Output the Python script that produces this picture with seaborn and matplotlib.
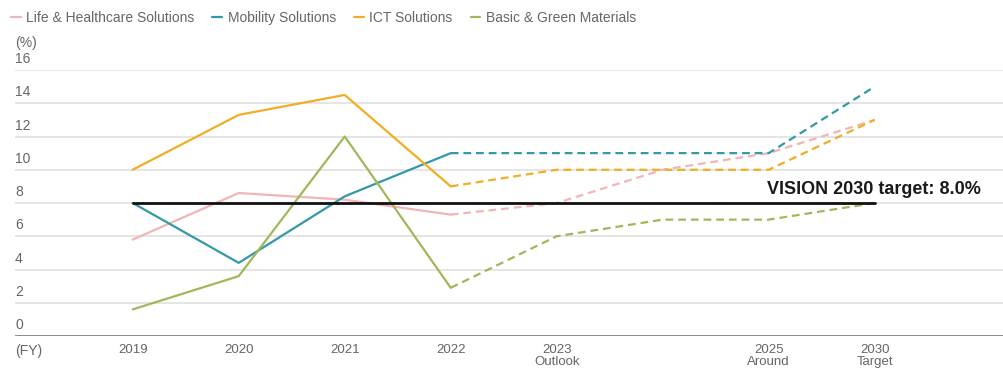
import pandas as pd
import matplotlib.pyplot as plt
import seaborn as sns
from matplotlib.lines import Line2D

# x positions (2024 has no label but the lines bend there)
years = ['2019', '2020', '2021', '2022', '2023\nOutlook', '', '2025\nAround', '2030\nTarget']
pos = [0, 1, 2, 3, 4, 5, 6, 7]

series_names = ['Life & Healthcare Solutions', 'Mobility Solutions', 'ICT Solutions', 'Basic & Green Materials']
life = [5.8, 8.6, 8.2, 7.3, 8.0, 10.0, 11.0, 13.0]
mobility = [8.0, 4.4, 8.4, 11.0, 11.0, 11.0, 11.0, 15.0]
ict = [10.0, 13.3, 14.5, 9.0, 10.0, 10.0, 10.0, 13.0]
basic = [1.6, 3.6, 12.0, 2.9, 6.0, 7.0, 7.0, 8.0]
n_actual = 4  # 2019-2022 actual, rest forecast

target = 8.0
target_span = [0, 7]

colors = ['#f3b4b6', '#3399a6', '#f0ae22', '#9fb85a']

rows = []
for name, vals in zip(series_names, [life, mobility, ict, basic]):
    for i, (p, v) in enumerate(zip(pos, vals)):
        if i < n_actual:
            rows.append((name, 'actual', p, v))
        if i >= n_actual - 1:
            rows.append((name, 'plan', p, v))
df = pd.DataFrame(rows, columns=['series', 'phase', 'x', 'value'])

sns.set_style('white')
plt.rcParams['font.family'] = ['Liberation Sans', 'DejaVu Sans']

fig = plt.figure(figsize=(10.04, 3.68), dpi=100)
ax = fig.add_axes([0.015, 1 - 336 / 368, 0.985, (336 - 70) / 368])

for y in range(2, 17, 2):
    ax.axhline(y, color='#e3e3e3', lw=1.3, zorder=0)
ax.axhline(0, color='#6b6b6b', lw=1.8, zorder=1)

sns.lineplot(data=df, x='x', y='value', hue='series', style='phase',
             hue_order=series_names, palette=colors,
             dashes={'actual': '', 'plan': (3.5, 2.2)},
             estimator=None, sort=False, lw=1.6, legend=False, ax=ax)

ax.plot(target_span, [target, target], color='#111111', lw=2.0, zorder=5)
ax.text(5.98, target + 0.3, 'VISION 2030 target: 8.0%', fontsize=13,
        fontweight='semibold', color='#1a1a1a', ha='left', va='bottom')

ax.set_xlim(-1.11, 8.22)
ax.set_ylim(0, 16)
for s in ax.spines.values():
    s.set_visible(False)

ax.set_xticks(pos)
ax.set_xticklabels(years, fontsize=9.5, color='#666666', linespacing=1.0)
ax.tick_params(axis='x', length=0, pad=6)
ax.set_yticks([])
ax.set_xlabel('')
ax.set_ylabel('')

ytr = ax.get_yaxis_transform()
for y in range(0, 17, 2):
    ax.text(0.0, y + 0.66, str(y), transform=ytr, fontsize=10, color='#666666',
            ha='left', va='center')
fig.text(15 / 1004, 1 - 43 / 368, '(%)', fontsize=10, color='#666666', va='center', ha='left')
fig.text(15 / 1004, 1 - 351 / 368, '(FY)', fontsize=10, color='#666666', va='center', ha='left')

handles = [Line2D([0], [0], color=c, lw=1.6) for c in colors]
fig.legend(handles, series_names, loc='upper left', bbox_to_anchor=(8 / 1004, 1 - 8 / 368),
           ncol=4, frameon=False, fontsize=10, handlelength=0.7, handletextpad=0.4,
           columnspacing=1.3, labelcolor='#666666', borderaxespad=0, borderpad=0.2)

fig.savefig('out.png', dpi=100)
